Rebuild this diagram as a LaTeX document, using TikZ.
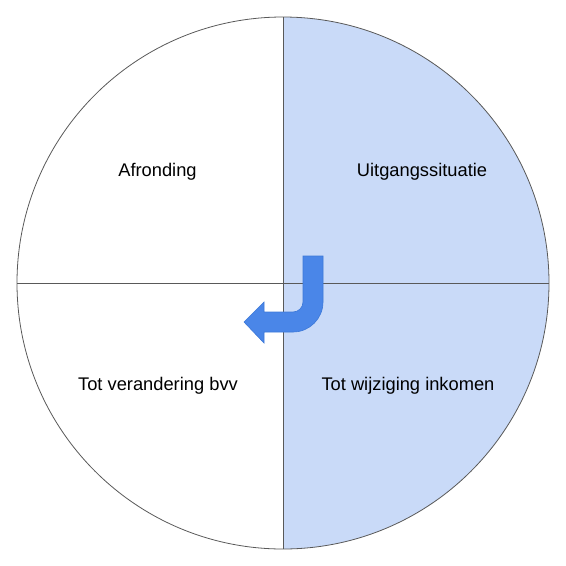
\documentclass[tikz,border=0pt]{standalone}
\usepackage{fontspec}
\setmainfont{Liberation Sans}
\usetikzlibrary{positioning}
\definecolor{lightblue}{HTML}{C9DAF8}
\definecolor{arrowblue}{HTML}{4A86E8}
\definecolor{arrowedge}{HTML}{3C78D8}
\definecolor{linegray}{HTML}{595959}
\tikzset{phase/.style={font=\fontsize{18.3}{22}\selectfont,text=black}}
\begin{document}
\begin{tikzpicture}[x=1pt,y=-1pt]
\useasboundingbox (0,0) rectangle (566,566);
% \draw[help lines] (0,0) grid (566,566);
\coordinate (c) at (283,283);
\fill[lightblue] (283,17) arc[start angle=-90,end angle=90,radius=266] -- cycle;
\draw[linegray,line width=0.8pt] (c) circle[radius=266];
\draw[linegray,line width=0.8pt] (283,17) -- (283,549);
\draw[linegray,line width=0.8pt] (17,283) -- (549,283);
%
\node (afr) [phase] at (157.5,172) {Afronding};
\node (uit) [phase] at (422,172) {Uitgangssituatie};
\node (bvv) [phase] at (158,386) {Tot verandering bvv};
\node (ink) [phase] at (408,386) {Tot wijziging inkomen};
%
\filldraw[fill=arrowblue,draw=arrowedge,line width=0.6pt,line join=miter]
  (303,256) -- (323,256) -- (323,302)
  arc[start angle=0,end angle=90,radius=30]
  -- (264,332) -- (264,343) -- (244,322) -- (264,302) -- (264,312) -- (293,312)
  arc[start angle=90,end angle=0,radius=10] -- cycle;
\end{tikzpicture}
\end{document}
